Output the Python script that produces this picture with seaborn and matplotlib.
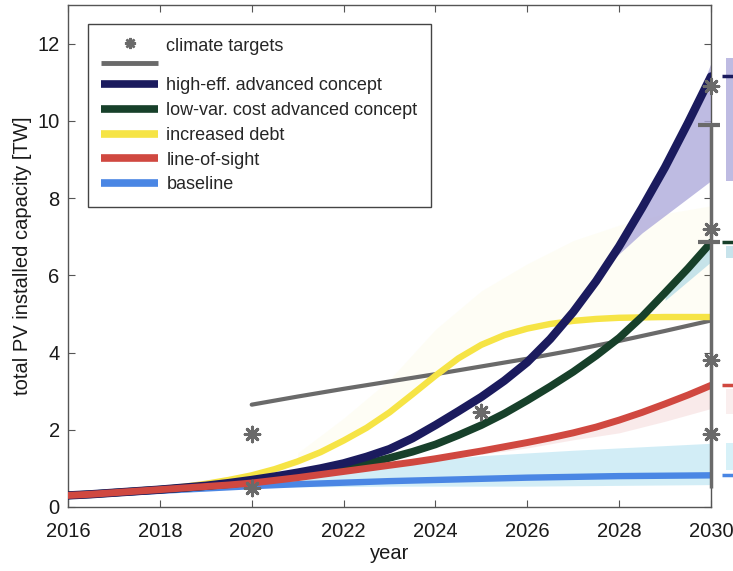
import numpy as np
import pandas as pd
import matplotlib
matplotlib.use("Agg")
import matplotlib.pyplot as plt
from matplotlib.lines import Line2D
from matplotlib.legend_handler import HandlerBase
import seaborn as sns

# ---- data (half-year steps) --------------------------------------------
years = [2016.0, 2016.5, 2017.0, 2017.5, 2018.0, 2018.5, 2019.0, 2019.5, 2020.0, 2020.5,
         2021.0, 2021.5, 2022.0, 2022.5, 2023.0, 2023.5, 2024.0, 2024.5, 2025.0, 2025.5,
         2026.0, 2026.5, 2027.0, 2027.5, 2028.0, 2028.5, 2029.0, 2029.5, 2030.0]

baseline = [0.30, 0.33, 0.36, 0.39, 0.42, 0.45, 0.48, 0.51, 0.54, 0.565,
            0.59, 0.61, 0.63, 0.65, 0.67, 0.685, 0.70, 0.715, 0.73, 0.745,
            0.76, 0.77, 0.78, 0.79, 0.80, 0.805, 0.81, 0.815, 0.82]
line_of_sight = [0.30, 0.33, 0.37, 0.41, 0.45, 0.49, 0.53, 0.57, 0.62, 0.69,
                 0.76, 0.84, 0.92, 1.00, 1.08, 1.16, 1.25, 1.35, 1.45, 1.56,
                 1.67, 1.79, 1.92, 2.07, 2.25, 2.45, 2.67, 2.90, 3.15]
increased_debt = [0.30, 0.33, 0.37, 0.41, 0.46, 0.52, 0.60, 0.70, 0.82, 0.98,
                  1.18, 1.42, 1.72, 2.05, 2.45, 2.92, 3.40, 3.85, 4.20, 4.45,
                  4.62, 4.74, 4.82, 4.87, 4.90, 4.91, 4.92, 4.92, 4.92]
low_var = [0.30, 0.33, 0.37, 0.41, 0.45, 0.49, 0.54, 0.59, 0.65, 0.72,
           0.80, 0.89, 1.00, 1.12, 1.27, 1.43, 1.62, 1.86, 2.12, 2.42,
           2.76, 3.12, 3.50, 3.92, 4.38, 4.93, 5.55, 6.18, 6.85]
high_eff = [0.30, 0.33, 0.37, 0.41, 0.45, 0.50, 0.55, 0.62, 0.70, 0.79,
            0.89, 1.00, 1.13, 1.30, 1.50, 1.78, 2.12, 2.48, 2.85, 3.27,
            3.75, 4.35, 5.05, 5.85, 6.75, 7.75, 8.80, 9.95, 11.15]

target_years = [2020, 2021, 2022, 2023, 2024, 2025, 2026, 2027, 2028, 2029, 2030]
target_trend = [2.65, 2.86, 3.06, 3.25, 3.44, 3.64, 3.84, 4.06, 4.30, 4.56, 4.83]

target_pts_x = [2020, 2020, 2025, 2030, 2030, 2030, 2030]
target_pts_y = [1.90, 0.50, 2.45, 10.90, 7.20, 3.80, 1.90]

# 2030 target range bar and its caps
target_bar = [0.50, 9.88]
target_caps = [9.88, 6.85]

# uncertainty bands
band_base_years = [2020, 2021, 2022, 2023, 2024, 2025, 2026, 2027, 2028, 2029, 2030]
band_base_lo = [0.50, 0.52, 0.53, 0.54, 0.54, 0.54, 0.54, 0.55, 0.56, 0.57, 0.58]
band_base_hi = [0.60, 0.74, 0.90, 1.08, 1.22, 1.33, 1.40, 1.47, 1.53, 1.59, 1.65]

band_los_years = [2025, 2026, 2027, 2028, 2029, 2030]
band_los_lo = [1.36, 1.53, 1.74, 1.92, 2.22, 2.55]
band_los_hi = [1.45, 1.67, 1.92, 2.25, 2.67, 3.15]

band_debt_years = [2021, 2022, 2023, 2024, 2025, 2026, 2027, 2028, 2029, 2030]
band_debt_lo = [1.18, 1.72, 2.45, 3.40, 4.20, 4.62, 4.82, 4.90, 4.92, 4.92]
band_debt_hi = [1.40, 2.30, 3.30, 4.60, 5.60, 6.30, 6.90, 7.30, 7.60, 7.80]

band_heff_years = [2027.9, 2028.5, 2029.0, 2029.5, 2030.0]
band_heff_lo = [6.45, 7.10, 7.55, 8.00, 8.45]
band_heff_hi = [6.60, 7.75, 8.80, 9.95, 11.50]

band_lvar_years = [2029.0, 2029.5, 2030.0]
band_lvar_lo = [5.35, 5.85, 6.35]
band_lvar_hi = [5.55, 6.18, 6.85]

# side-margin range bars for 2030 (low, high)
margin_heff = [8.45, 11.64]
margin_lvar = [6.44, 6.75]
margin_los = [2.40, 3.05]
margin_base = [0.96, 1.65]

labels = ["high-eff. advanced concept", "low-var. cost advanced concept",
          "increased debt", "line-of-sight", "baseline"]
colors = {"high-eff. advanced concept": "#1b1b5e",
          "low-var. cost advanced concept": "#17402a",
          "increased debt": "#f6e445",
          "line-of-sight": "#d04840",
          "baseline": "#4a86e4"}
gray = "#6a6a6a"

# ---- figure -----------------------------------------------------------
sns.set_theme(style="ticks")
plt.rcParams["font.family"] = ["Liberation Sans", "DejaVu Sans"]

fig = plt.figure(figsize=(7.33, 5.71), dpi=100)
L, R, B, T = 68 / 733, 711 / 733, 1 - 507 / 571, 1 - 5 / 571
ax = fig.add_axes([L, B, R - L, T - B])

# bands
ax.fill_between(band_debt_years, band_debt_lo, band_debt_hi, color="#f8ee8a", alpha=0.08, lw=0, zorder=1)
ax.fill_between(band_base_years, band_base_lo, band_base_hi, color="#c3e8f4", alpha=0.75, lw=0, zorder=1)
ax.fill_between(band_los_years, band_los_lo, band_los_hi, color="#f2cccc", alpha=0.4, lw=0, zorder=1)
ax.fill_between(band_heff_years, band_heff_lo, band_heff_hi, color="#aeaadb", alpha=0.8, lw=0, zorder=1)
ax.fill_between(band_lvar_years, band_lvar_lo, band_lvar_hi, color="#b9dde6", alpha=0.8, lw=0, zorder=1)

# climate target trend
sns.lineplot(x=target_years, y=target_trend, color=gray, linewidth=3, ax=ax, zorder=2)

df = pd.DataFrame({
    "year": years * 5,
    "capacity": high_eff + low_var + increased_debt + line_of_sight + baseline,
    "scenario": sum([[lab] * len(years) for lab in labels], []),
})
widths = {"increased debt": 4.6, "baseline": 4.6, "line-of-sight": 5.0,
          "low-var. cost advanced concept": 5.5, "high-eff. advanced concept": 6.0}
for lab, z in [("increased debt", 3), ("baseline", 4), ("low-var. cost advanced concept", 5),
               ("high-eff. advanced concept", 6), ("line-of-sight", 7)]:
    sns.lineplot(data=df[df.scenario == lab], x="year", y="capacity", color=colors[lab],
                 linewidth=widths[lab], ax=ax, zorder=z, legend=False)

# 2030 target range bar
ax.vlines(2030, target_bar[0], target_bar[1], color=gray, lw=2.5, zorder=8, clip_on=False)
ax.hlines(target_caps, 2029.72, 2030.2, color=gray, lw=3, zorder=8, clip_on=False)

# climate target points
asterisk = (8, 2, 0)
sns.scatterplot(x=target_pts_x, y=target_pts_y, marker=asterisk, s=110, color=gray,
                edgecolor=gray, linewidth=2.2, ax=ax, zorder=9, clip_on=False)

ax.set_xlim(2016, 2030)
ax.set_ylim(0, 13)
ax.set_xticks(range(2016, 2031, 2))
ax.set_yticks(range(0, 13, 2))
ax.tick_params(direction="in", length=5, width=0.8, labelsize=14.5, top=True, right=True,
               color="#555555", labelcolor="#1a1a1a")
ax.tick_params(axis="x", pad=11)
ax.tick_params(axis="y", pad=6)
for s in ax.spines.values():
    s.set_color("#555555")
    s.set_linewidth(1.0)
ax.set_xlabel("year", fontsize=14.5, color="#1a1a1a", labelpad=2)
ax.set_ylabel("total PV installed capacity [TW]", fontsize=14.5, color="#1a1a1a", labelpad=4)


# legend: climate targets entry shows an asterisk above a gray line
class TargetKey:
    pass


class TargetHandler(HandlerBase):
    def create_artists(self, legend, orig_handle, xdescent, ydescent, width, height, fontsize, trans):
        cy = height / 2 - ydescent
        off = fontsize * 0.5
        line = Line2D([-xdescent, width - xdescent], [cy - off, cy - off], color=gray, lw=3.5,
                      solid_capstyle="butt")
        star = Line2D([width / 2 - xdescent], [cy + off + 1], marker=asterisk, markersize=8,
                      color=gray, markeredgewidth=1.8, linestyle="none")
        line.set_transform(trans)
        star.set_transform(trans)
        return [line, star]


handles = [TargetKey()] + [Line2D([], [], color=colors[lab], lw=5.5, solid_capstyle="butt") for lab in labels]
leg = ax.legend(handles, ["climate targets\n"] + labels, handler_map={TargetKey: TargetHandler()},
                loc="upper left", bbox_to_anchor=(0.031, 0.962), fontsize=13.0, frameon=True,
                fancybox=False, framealpha=1, edgecolor="#444444", handlelength=3.15,
                handletextpad=0.45, labelspacing=0.43, borderpad=0.75, borderaxespad=0)
leg.get_frame().set_linewidth(1.0)
leg.set_zorder(20)
leg.get_texts()[0].set_linespacing(0.85)

# right margin: 2030 ranges per scenario
ax2 = fig.add_axes([722 / 733, B, 0.04, T - B])
ax2.set_xlim(0, 1)
ax2.set_ylim(0, 13)
ax2.axis("off")
ax2.fill_between([0.12, 1], margin_heff[0], margin_heff[1], color="#aeaadb", alpha=0.8, lw=0)
ax2.fill_between([0.12, 1], margin_lvar[0], margin_lvar[1], color="#b9dde6", alpha=0.8, lw=0)
ax2.fill_between([0.12, 1], margin_los[0], margin_los[1], color="#f6dede", alpha=0.5, lw=0)
ax2.fill_between([0.12, 1], margin_base[0], margin_base[1], color="#cdeef7", alpha=0.8, lw=0)
for vals, lab in [(high_eff, labels[0]), (low_var, labels[1]), (line_of_sight, labels[3]), (baseline, labels[4])]:
    ax2.hlines(vals[-1], 0.0, 1.0, color=colors[lab], lw=2.5)

fig.savefig("out.png", dpi=100, facecolor="white")
